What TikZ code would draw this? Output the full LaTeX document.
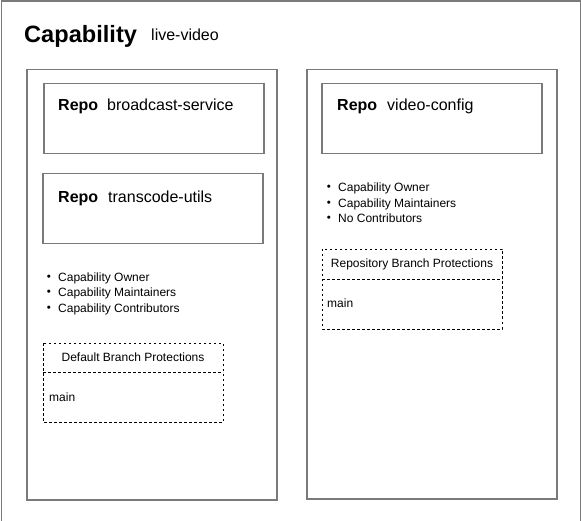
\documentclass[tikz,border=0pt]{standalone}
\usepackage{fontspec}
\setmainfont{Liberation Sans}
\begin{document}
\begin{tikzpicture}[x=1pt,y=-1pt,
  boxline/.style={draw=black!52,line width=1.5pt},
  frame/.style={boxline,anchor=north west,inner sep=0pt,minimum width=#1},
  dbox/.style={draw=black,line width=0.8pt,dash pattern=on 2.5pt off 2.5pt},
  txt/.style={anchor=base west,inner sep=0pt},
  big/.style={txt,font=\fontsize{23.6}{23.6}\selectfont\bfseries},
  mid/.style={txt,font=\fontsize{16}{16}\selectfont},
  midb/.style={txt,font=\fontsize{16}{16}\selectfont\bfseries},
  small/.style={txt,font=\fontsize{12}{12}\selectfont},
  bul/.style={anchor=center,inner sep=0pt,font=\fontsize{11.5}{11.5}\selectfont},
  smallc/.style={anchor=base,inner sep=0pt,font=\fontsize{12}{12}\selectfont}]
\useasboundingbox (0,0) rectangle (581,521);
% outer capability box
\node[frame=579pt,minimum height=520pt] (cap) at (0.5,0.5) {};
\node[big] (capt) at (24,43) {Capability};
\node[mid] (capn) at (151,40.5) {live-video};
% columns
\node[frame=250pt,minimum height=430pt] (colL) at (26,69) {};
\node[frame=250pt,minimum height=429pt] (colR) at (306,69) {};
% repo boxes
\node[frame=220pt,minimum height=70pt] (r1) at (43,83) {};
\node[midb] (r1k) at (58,111) {Repo};
\node[mid] (r1n) at (107,111) {broadcast-service};
\node[frame=220pt,minimum height=70pt] (r2) at (42,173) {};
\node[midb] (r2k) at (58,203) {Repo};
\node[mid] (r2n) at (108,203) {transcode-utils};
\node[frame=220pt,minimum height=70pt] (r3) at (321,83) {};
\node[midb] (r3k) at (337,111) {Repo};
\node[mid] (r3n) at (387,111) {video-config};
% left bullets
\node[bul] (lb1) at (49,277.5) {•};
\node[small] (l1) at (58,281.5) {Capability Owner};
\node[bul] (lb2) at (49,293) {•};
\node[small] (l2) at (58,297) {Capability Maintainers};
\node[bul] (lb3) at (49,308.5) {•};
\node[small] (l3) at (58,312.5) {Capability Contributors};
% right bullets
\node[bul] (rb1) at (329,188) {•};
\node[small] (rl1) at (338,192) {Capability Owner};
\node[bul] (rb2) at (329,203.5) {•};
\node[small] (rl2) at (338,207.5) {Capability Maintainers};
\node[bul] (rb3) at (329,219) {•};
\node[small] (rl3) at (338,223) {No Contributors};
% left protections
\draw[dbox] (43,343) rectangle (223,422);
\draw[dbox] (43,372) -- (223,372);
\node[smallc] (lpt) at (133,361) {Default Branch Protections};
\node[small] (lpm) at (49,401) {main};
% right protections
\draw[dbox] (322,249) rectangle (502,329);
\draw[dbox] (322,279) -- (502,279);
\node[smallc] (rpt) at (412,267.5) {Repository Branch Protections};
\node[small] (rpm) at (327,307.5) {main};
\end{tikzpicture}
\end{document}
